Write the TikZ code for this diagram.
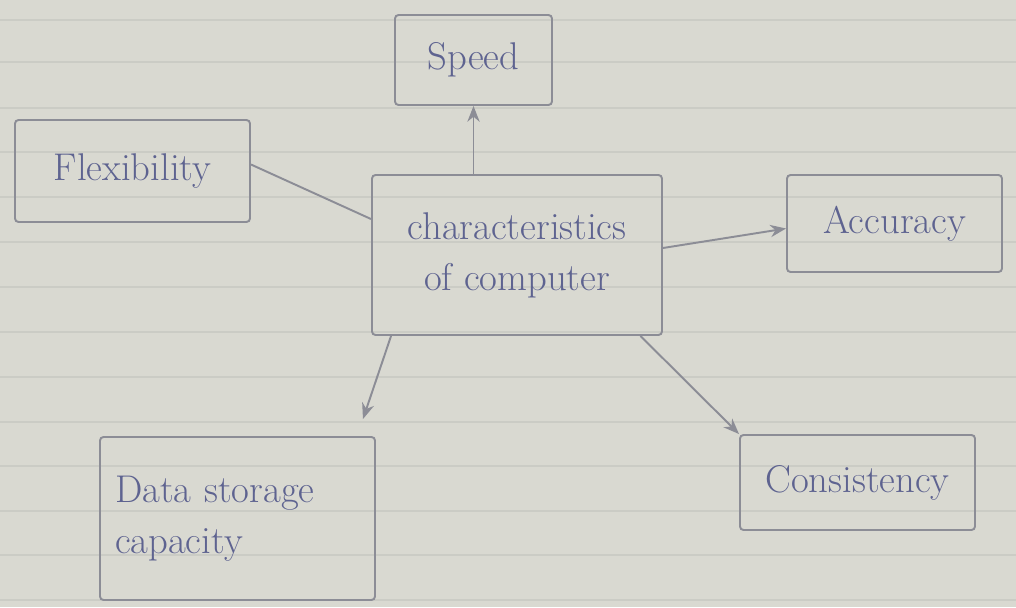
\documentclass[tikz,border=0pt]{standalone}
\usetikzlibrary{arrows.meta}
\definecolor{paper}{HTML}{D9D9D1}
\definecolor{rule}{HTML}{CBCCC5}
\definecolor{pencil}{HTML}{8C8D96}
\definecolor{ink}{HTML}{5E6390}
\tikzset{
  box/.style={draw=pencil,line width=1.1pt,rounded corners=2pt,inner sep=2pt,
              text=ink,font=\fontsize{22}{29}\selectfont,align=center},
  link/.style={draw=pencil,line width=1.1pt},
  linkarrow/.style={link,-{Stealth[length=9pt,width=7pt]}}
}
\begin{document}
\begin{tikzpicture}
  % paper, 1 px = 0.02 cm
  \fill[paper] (0,0) rectangle (20.32,12.14);
  \useasboundingbox (0,0) rectangle (20.32,12.14);
  \foreach \y in {0.14,1.04,1.92,2.82,3.7,4.6,5.5,6.4,7.3,8.2,9.1,9.98,10.9,11.74}
    \draw[rule,line width=0.8pt] (0,\y) -- (20.32,\y); % ruled lines

  \node[box,minimum width=5.8cm,minimum height=3.2cm] (mid) at (10.34,7.04)
       {characteristics\\of computer}; % centre
  \node[box,minimum width=3.14cm,minimum height=1.8cm] (speed) at (9.47,10.94) {Speed};
  \node[box,minimum width=4.7cm,minimum height=2.04cm] (flex) at (2.65,8.72) {Flexibility};
  \node[box,minimum width=4.3cm,minimum height=1.94cm] (acc) at (17.89,7.67) {Accuracy};
  \node[box,minimum width=5.5cm,minimum height=3.26cm,text width=4.9cm,align=left] (data) at (4.75,1.77)
       {Data storage\\capacity};
  \node[box,minimum width=4.7cm,minimum height=1.9cm] (cons) at (17.15,2.49) {Consistency};

  \draw[linkarrow] (mid.north -| speed.south) -- (speed.south);
  \draw[link] ([yshift=-0.9cm]mid.north west) -- ([yshift=0.13cm]flex.east);
  \draw[linkarrow] ([yshift=0.14cm]mid.east) -- ([yshift=-0.1cm]acc.west);
  \draw[linkarrow] ([xshift=0.4cm]mid.south west) -- ([xshift=-0.26cm,yshift=0.34cm]data.north east);
  \draw[linkarrow] ([xshift=-0.45cm]mid.south east) -- (cons.north west);
\end{tikzpicture}
\end{document}
